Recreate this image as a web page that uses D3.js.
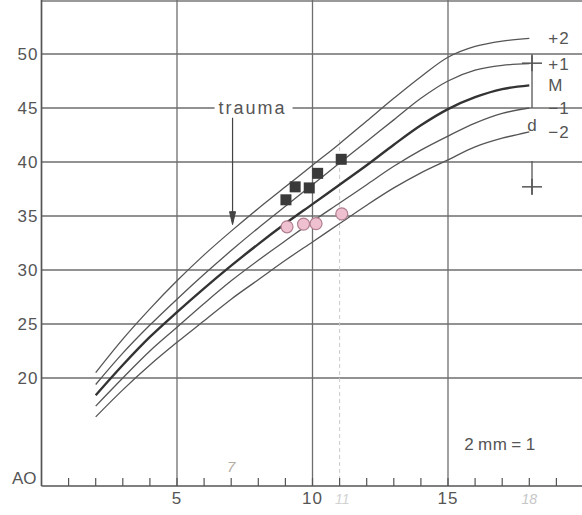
<!DOCTYPE html>
<html>
<head>
<meta charset="utf-8">
<script src="https://cdn.jsdelivr.net/npm/d3@7"></script>
<style>
  body { margin: 0; background: #fff; }
  text { font-family: "Liberation Sans", Arial, sans-serif; fill: #555; }
</style>
</head>
<body>
<svg width="582" height="515"></svg>
<script>
// ages (years) at which the reference curves are read
const ages = [2, 3, 4, 5, 6, 7, 8, 9, 10, 11, 12, 13, 14, 15, 16, 17, 18];
const plus2  = [20.5, 23.6, 26.4, 29.0, 31.4, 33.6, 35.7, 37.7, 39.7, 41.7, 43.8, 45.9, 47.9, 49.7, 50.7, 51.2, 51.45];
const plus1  = [19.4, 22.3, 24.9, 27.3, 29.6, 31.8, 33.9, 35.9, 37.9, 39.9, 41.9, 43.9, 45.9, 47.5, 48.5, 48.95, 49.1];
const median = [18.4, 21.2, 23.8, 26.1, 28.3, 30.4, 32.4, 34.3, 36.1, 37.9, 39.7, 41.6, 43.4, 44.9, 46.0, 46.75, 47.1];
const minus1 = [17.4, 20.0, 22.5, 24.7, 26.9, 29.0, 30.9, 32.7, 34.5, 36.2, 37.9, 39.6, 41.1, 42.4, 43.6, 44.5, 45.0];
const minus2 = [16.4, 18.9, 21.2, 23.3, 25.3, 27.3, 29.1, 30.9, 32.6, 34.3, 36.0, 37.6, 39.0, 40.2, 41.4, 42.2, 42.8];
const curveLabels = ["+2", "+1", "M", "\u22121", "\u22122"];

const squareAges = [9.02, 9.36, 9.88, 10.19, 11.06];
const squareVals = [36.5, 37.7, 37.6, 38.95, 40.25];
const circleAges = [9.06, 9.67, 10.13, 11.08];
const circleVals = [34.0, 34.25, 34.3, 35.2];

const yTicks = [20, 25, 30, 35, 40, 45, 50];
const xTicks = [5, 10, 15];
const minorTicks = d3.range(1, 22);

const svg = d3.select('svg');
const width = +svg.attr('width');
const height = +svg.attr('height');

const x = d3.scaleLinear().domain([0, 5]).range([41.5, 177]);
const y = d3.scaleLinear().domain([10, 55]).range([486, 0]);
const left = x(0), bottom = y(10);

const g = svg.append('g');

// frame and grid
g.append('line').attr('x1', left).attr('x2', width).attr('y1', 1).attr('y2', 1)
  .attr('stroke', '#777').attr('stroke-width', 1.5);
g.selectAll('.hgrid').data(yTicks).join('line')
  .attr('x1', left).attr('x2', width)
  .attr('y1', d => y(d)).attr('y2', d => y(d))
  .attr('stroke', '#6e6e6e').attr('stroke-width', 1.5);
g.selectAll('.vgrid').data(xTicks).join('line')
  .attr('x1', d => x(d)).attr('x2', d => x(d))
  .attr('y1', 0).attr('y2', bottom)
  .attr('stroke', '#6e6e6e').attr('stroke-width', 1.3);
// faint pencil line at 11
g.append('line').attr('x1', x(11)).attr('x2', x(11)).attr('y1', 140).attr('y2', bottom)
  .attr('stroke', '#ccc').attr('stroke-width', 1).attr('stroke-dasharray', '4,3');

// axes
g.append('line').attr('x1', left).attr('x2', left).attr('y1', 0).attr('y2', bottom)
  .attr('stroke', '#555').attr('stroke-width', 1.7);
g.append('line').attr('x1', left).attr('x2', width).attr('y1', bottom).attr('y2', bottom)
  .attr('stroke', '#555').attr('stroke-width', 1.7);
g.selectAll('.tick').data(minorTicks).join('line')
  .attr('x1', d => x(d)).attr('x2', d => x(d))
  .attr('y1', bottom).attr('y2', bottom - 8)
  .attr('stroke', '#555').attr('stroke-width', 1.2);

g.selectAll('.ylab').data(yTicks).join('text')
  .attr('x', left - 3).attr('y', d => y(d) + 6)
  .attr('text-anchor', 'end').attr('font-size', 17).attr('letter-spacing', 1)
  .text(d => d);
g.append('text').attr('x', left - 5).attr('y', bottom - 2)
  .attr('text-anchor', 'end').attr('font-size', 17).text('AO');
g.selectAll('.xlab').data(xTicks).join('text')
  .attr('x', d => x(d)).attr('y', bottom + 18)
  .attr('text-anchor', 'middle').attr('font-size', 17).attr('letter-spacing', 1)
  .text(d => d);

// faint handwritten notes
g.append('text').attr('x', x(7)).attr('y', bottom - 14).attr('text-anchor', 'middle')
  .attr('font-size', 15).attr('font-family', 'DejaVu Serif').attr('font-style', 'italic')
  .style('fill', '#b5aca2').text('7');
g.append('text').attr('x', x(11.1)).attr('y', bottom + 18).attr('text-anchor', 'middle')
  .attr('font-size', 14).attr('font-family', 'DejaVu Serif').attr('font-style', 'italic')
  .style('fill', '#d2d2d2').text('11');
g.append('text').attr('x', x(18)).attr('y', bottom + 18).attr('text-anchor', 'middle')
  .attr('font-size', 14).attr('font-family', 'DejaVu Serif').attr('font-style', 'italic')
  .style('fill', '#c6c6c6').text('18');

// percentile curves
const series = [plus2, plus1, median, minus1, minus2];
const line = d3.line().x((d, i) => x(ages[i])).y(d => y(d)).curve(d3.curveCatmullRom);
series.forEach((s, k) => {
  g.append('path').datum(s)
    .attr('fill', 'none')
    .attr('stroke', k === 2 ? '#333' : '#555')
    .attr('stroke-width', k === 2 ? 2.4 : 1.3)
    .attr('d', line);
  g.append('text')
    .attr('x', x(18) + 19).attr('y', y(s[s.length - 1]) + 6)
    .attr('font-size', 17).attr('letter-spacing', 1)
    .text(curveLabels[k]);
});

// d scale bar at the right
const barX = x(18.1);
const dTop = 49.15, dBottom = 37.7;
g.append('line').attr('x1', barX).attr('x2', barX).attr('y1', y(dTop) - 9).attr('y2', y(45))
  .attr('stroke', '#555').attr('stroke-width', 1.3);
g.append('line').attr('x1', barX).attr('x2', barX).attr('y1', y(40.1)).attr('y2', y(dBottom) + 8)
  .attr('stroke', '#555').attr('stroke-width', 1.3);
[dTop, dBottom].forEach(v => {
  g.append('line').attr('x1', barX - 10).attr('x2', barX + 10).attr('y1', y(v)).attr('y2', y(v))
    .attr('stroke', '#555').attr('stroke-width', 1.5);
  g.append('line').attr('x1', barX).attr('x2', barX).attr('y1', y(v) - 8).attr('y2', y(v) + 8)
    .attr('stroke', '#555').attr('stroke-width', 1.5);
});
g.append('text').attr('x', barX).attr('y', y(43.4) + 6).attr('text-anchor', 'middle')
  .attr('font-size', 17).text('d');

// trauma annotation
const trX = x(7.05);
g.append('rect').attr('x', trX - 18).attr('y', y(45) - 10).attr('width', 78).attr('height', 20).attr('fill', '#fff');
g.append('text').attr('x', trX - 14).attr('y', y(45) + 6)
  .attr('font-size', 18).attr('letter-spacing', 2).text('trauma');
g.append('line').attr('x1', trX).attr('x2', trX).attr('y1', y(44.1)).attr('y2', y(34.4))
  .attr('stroke', '#444').attr('stroke-width', 1.2);
g.append('path')
  .attr('d', `M${trX - 3},${y(35.4)} L${trX},${y(34.2)} L${trX + 3},${y(35.4)} Z`)
  .attr('fill', '#444').attr('stroke', '#444');

// measurements
g.selectAll('.sq').data(squareAges).join('rect')
  .attr('x', d => x(d) - 5.5).attr('y', (d, i) => y(squareVals[i]) - 5.5)
  .attr('width', 11).attr('height', 11)
  .attr('fill', '#3a3a3a');
g.selectAll('.ci').data(circleAges).join('circle')
  .attr('cx', d => x(d)).attr('cy', (d, i) => y(circleVals[i]))
  .attr('r', 6)
  .attr('fill', '#efc0cf').attr('stroke', '#b07f90').attr('stroke-width', 1.2);

g.append('text').attr('x', x(15.6)).attr('y', y(13.3))
  .attr('font-size', 17).attr('letter-spacing', 0.5).text('2\u2009mm\u2009=\u20091');
</script>
</body>
</html>
